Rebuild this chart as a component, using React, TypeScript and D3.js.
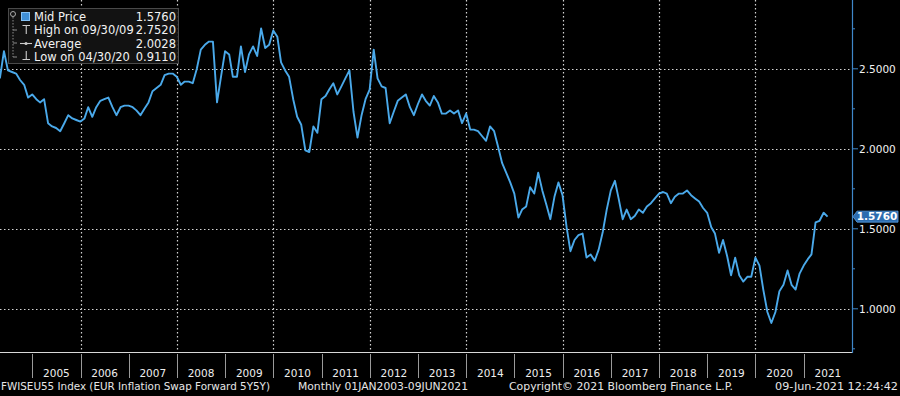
import React from 'react';
import * as d3 from 'd3';

// monthly mid price, month-end points starting Apr 2004
const midPrice = [
  2.44, 2.61, 2.49, 2.48, 2.47, 2.43, 2.40, 2.32, 2.34, 2.31, 2.29, 2.31,
  2.16, 2.14, 2.13, 2.11, 2.16, 2.21, 2.19, 2.18, 2.17, 2.19, 2.26, 2.20,
  2.26, 2.30, 2.31, 2.32, 2.26, 2.21, 2.26, 2.27, 2.27, 2.26, 2.24, 2.21,
  2.25, 2.29, 2.36, 2.38, 2.40, 2.46, 2.47, 2.47, 2.45, 2.40, 2.42, 2.42,
  2.41, 2.50, 2.62, 2.65, 2.67, 2.67, 2.29, 2.45, 2.61, 2.59, 2.45, 2.45,
  2.64, 2.48, 2.59, 2.64, 2.58, 2.752, 2.63, 2.65, 2.74, 2.70, 2.54, 2.49,
  2.45, 2.31, 2.20, 2.15, 1.99, 1.98, 2.14, 2.10, 2.31, 2.33, 2.37, 2.41,
  2.34, 2.39, 2.44, 2.49, 2.23, 2.07, 2.21, 2.31, 2.37, 2.62, 2.44, 2.39,
  2.38, 2.16, 2.23, 2.30, 2.32, 2.34, 2.26, 2.21, 2.28, 2.34, 2.30, 2.27,
  2.33, 2.29, 2.22, 2.22, 2.24, 2.22, 2.24, 2.16, 2.22, 2.12, 2.12, 2.11,
  2.08, 2.05, 2.14, 2.11, 2.01, 1.91, 1.85, 1.79, 1.72, 1.57, 1.62, 1.64,
  1.76, 1.72, 1.85, 1.74, 1.65, 1.56, 1.70, 1.79, 1.71, 1.51, 1.36, 1.43,
  1.46, 1.47, 1.32, 1.34, 1.30, 1.37, 1.48, 1.62, 1.74, 1.80, 1.69, 1.56,
  1.62, 1.56, 1.58, 1.62, 1.60, 1.64, 1.66, 1.69, 1.72, 1.73, 1.72, 1.66,
  1.70, 1.72, 1.72, 1.74, 1.71, 1.69, 1.67, 1.63, 1.60, 1.51, 1.47, 1.35,
  1.43, 1.33, 1.21, 1.32, 1.21, 1.17, 1.20, 1.20, 1.32, 1.27, 1.12, 0.98,
  0.911, 0.98, 1.11, 1.15, 1.24, 1.15, 1.12, 1.22, 1.27, 1.31, 1.34, 1.54,
  1.55, 1.60, 1.576,
];

const yearLabels = ['2005', '2006', '2007', '2008', '2009', '2010', '2011', '2012', '2013',
  '2014', '2015', '2016', '2017', '2018', '2019', '2020', '2021'];
const gridYears = [2006, 2008, 2010, 2012, 2014, 2016, 2018, 2020];
const yLabels = [1.0, 1.5, 2.0, 2.5];
const yMinorTicks = [0.75, 1.25, 1.75, 2.25, 2.75];

const legendNames = ['Mid Price', 'High on 09/30/09', 'Average', 'Low on 04/30/20'];
const legendValues = ['1.5760', '2.7520', '2.0028', '0.9110'];
const lastValue = 1.576;

const footer = [
  { text: 'FWISEU55 Index (EUR Inflation Swap Forward 5Y5Y)', x: 1, len: 269 },
  { text: 'Monthly 01JAN2003-09JUN2021', x: 298, len: 170 },
  { text: 'Copyright\u00A9 2021 Bloomberg Finance L.P.', x: 509, len: 224 },
  { text: '09-Jun-2021 12:24:42', x: 775, len: 123 },
];

const W = 900;
const H = 396;
const plotRight = 852;
const plotBottom = 352;
const font = '"DejaVu Sans", sans-serif';
const lineColor = '#4aa9ea';
const axisBlue = '#3f87c9';
const gridColor = '#d4d4d4';

const crisp = (v: number) => Math.round(v) + 0.5;

export default function App() {
  const dates = midPrice.map((_, i) => new Date(2004, 4 + i, 0));

  const x = d3.scaleTime()
    .domain([new Date(2004, 4, 1), new Date(2022, 0, 1)])
    .range([0, plotRight]);
  const y = d3.scaleLinear().domain([0.73, 2.93]).range([plotBottom, 0]);

  const line = d3.line<number>()
    .x((_, i) => x(dates[i]))
    .y(d => y(d));

  const yearStart = (yr: number) => x(new Date(yr, 0, 1));

  return (
    <div style={{ position: 'fixed', left: 0, top: 0, width: W, height: H, background: '#000' }}>
      <svg width={W} height={H} style={{ display: 'block' }} fontFamily={font}>
        <rect width={W} height={H} fill="#000" />
        <defs>
          <clipPath id="plot">
            <rect x={0} y={0} width={plotRight} height={plotBottom} />
          </clipPath>
        </defs>

        {/* grid */}
        <g stroke={gridColor} strokeWidth={1.2} strokeDasharray="1.5,2.5" fill="none">
          {yLabels.map(v => (
            <path key={'gy' + v} d={`M0,${crisp(y(v))} H${plotRight}`} />
          ))}
          {gridYears.map(yr => (
            <path key={'gx' + yr} d={`M${crisp(yearStart(yr))},0 V${plotBottom}`} />
          ))}
        </g>

        {/* series */}
        <path d={line(midPrice) || ''} fill="none" stroke={lineColor} strokeWidth={1.9}
          strokeLinejoin="round" clipPath="url(#plot)" />

        {/* bottom axis */}
        <line x1={0} x2={plotRight} y1={plotBottom + 0.5} y2={plotBottom + 0.5} stroke="#d8d8d8" strokeWidth={1} />
        {yearLabels.map(lbl => {
          const yr = +lbl;
          const x0 = yearStart(yr);
          const x1 = Math.min(yearStart(yr + 1), plotRight);
          return (
            <g key={lbl}>
              <line x1={crisp(x0)} x2={crisp(x0)} y1={plotBottom + 2} y2={plotBottom + 26} stroke="#9a9a9a" strokeWidth={1} />
              <text x={(x0 + x1) / 2} y={377} fill="#eeeeee" fontSize={10.5} textAnchor="middle">{lbl}</text>
            </g>
          );
        })}

        {/* right axis */}
        <line x1={plotRight + 0.5} x2={plotRight + 0.5} y1={0} y2={plotBottom + 1} stroke={axisBlue} strokeWidth={1.2} />
        {yMinorTicks.map(v => (
          <line key={'mt' + v} x1={plotRight} x2={plotRight + 3} y1={y(v)} y2={y(v)} stroke={axisBlue} strokeWidth={1} />
        ))}
        {yLabels.map(v => (
          <g key={'yl' + v}>
            <line x1={plotRight} x2={plotRight + 6} y1={y(v)} y2={y(v)} stroke={axisBlue} strokeWidth={1} />
            <text x={859} y={y(v) + 3.8} fill="#f2f2f2" fontSize={10.5}>{v.toFixed(4)}</text>
          </g>
        ))}

        {/* last value tag */}
        <g>
          <path d={`M${plotRight + 1},${y(lastValue)} L${plotRight + 5},${y(lastValue) - 5.5} L898,${y(lastValue) - 5.5} L898,${y(lastValue) + 5.5} L${plotRight + 5},${y(lastValue) + 5.5} Z`}
            fill="#2d6db0" stroke="#5da3e6" strokeWidth={0.8} />
          <text x={877} y={y(lastValue) + 3.8} fill="#ffffff" fontSize={10.5} textAnchor="middle" fontWeight="bold">
            {lastValue.toFixed(4)}
          </text>
        </g>

        {/* legend */}
        <g>
          <rect x={8.5} y={8.5} width={170} height={55} fill="#141414" fillOpacity={0.9} stroke="#4a4a4a" strokeWidth={1} />
          <circle cx={13} cy={14} r={2.5} fill="none" stroke="#aaaaaa" strokeWidth={1} />
          <line x1={13} x2={13} y1={17} y2={57} stroke="#8a8a8a" strokeWidth={1} strokeDasharray="1.5,1.5" />
          {[30, 43, 57].map(yy => (
            <line key={'br' + yy} x1={13} x2={17} y1={yy} y2={yy} stroke="#8a8a8a" strokeWidth={1} />
          ))}
          <rect x={21.5} y={12.5} width={8} height={8} fill="#3f8fd6" stroke="#86c2f5" strokeWidth={1} />
          <path d="M22.5,25.5 H30 M26.25,25.5 V34" stroke="#cccccc" strokeWidth={1.1} fill="none" />
          <path d="M20,43.5 H32" stroke="#cccccc" strokeWidth={1.1} fill="none" />
          <circle cx={26} cy={43.5} r={1.5} fill="#cccccc" />
          <path d="M26.25,51 V59.5 M22.5,59.5 H30" stroke="#cccccc" strokeWidth={1.1} fill="none" />
          {legendNames.map((name, i) => (
            <g key={name}>
              <text x={34} y={21 + i * 13.4} fill="#f2f2f2" fontSize={11.5}>{name}</text>
              <text x={176} y={21 + i * 13.4} fill="#f2f2f2" fontSize={11.5} textAnchor="end">{legendValues[i]}</text>
            </g>
          ))}
        </g>

        {/* footer */}
        {footer.map(f => (
          <text key={f.text} x={f.x} y={389.5} fill="#e6e6e6" fontSize={10}
            textLength={f.len} lengthAdjust="spacingAndGlyphs">{f.text}</text>
        ))}
      </svg>
    </div>
  );
}
